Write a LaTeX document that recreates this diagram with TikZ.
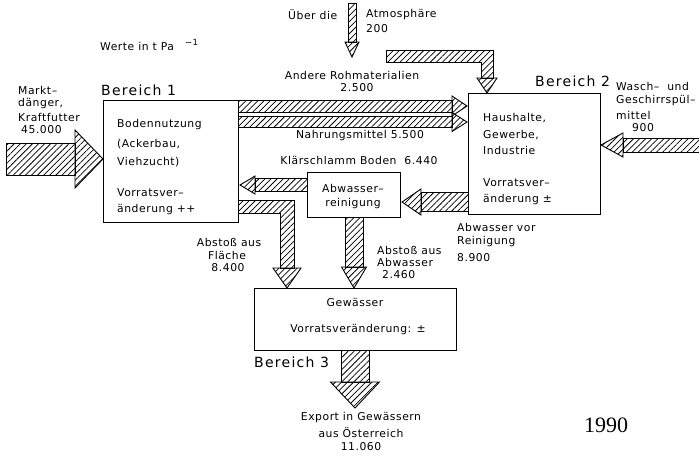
\documentclass[tikz,border=0pt]{standalone}
\usepackage{fontspec}
\usetikzlibrary{patterns.meta}
\newfontfamily\plotfont{DejaVu Sans}[LetterSpace=5]
\newfontfamily\bereichfont{DejaVu Sans}[LetterSpace=9]
\newfontfamily\yearfont{Liberation Serif}
\newcommand\harr[6]{%
  \draw[hatch] (#1,{#3-#4}) rectangle (#6,{#3+#4});
  \draw[hatch] (#6,{#3-#5}) -- (#2,#3) -- (#6,{#3+#5}) -- cycle;}
\newcommand\varr[6]{%
  \draw[hatch] ({#3-#4},#1) rectangle ({#3+#4},#6);
  \draw[hatch] ({#3-#5},#6) -- (#3,#2) -- ({#3+#5},#6) -- cycle;}
\begin{document}
\begin{tikzpicture}[x=1pt,y=-1pt,
  lbl/.style={font={\plotfont\fontsize{10.8}{13}\selectfont}, inner sep=0pt, anchor=west},
  clbl/.style={font={\plotfont\fontsize{10.8}{13}\selectfont}, inner sep=0pt, align=center},
  blbl/.style={font={\bereichfont\fontsize{14}{16}\selectfont}, inner sep=0pt, anchor=west},
  box/.style={draw, line width=1.2pt, inner sep=0pt, anchor=north west},
  hatch/.style={draw, line width=0.9pt, line join=miter,
    pattern={Lines[angle=45,distance=4.3pt,line width=0.75pt]}}]
\useasboundingbox (0,0) rectangle (699,456);
\fill[white] (0,0) rectangle (699,456);

% boxes
\node[box, minimum width=135pt, minimum height=122pt] (b1) at (103,100) {};
\node[box, minimum width=132pt, minimum height=121pt] (b2) at (468,93) {};
\node[box, minimum width=93pt, minimum height=45pt] (rein) at (307,172) {};
\node[box, minimum width=202pt, minimum height=62pt] (gew) at (254,288) {};

% box texts
\node[blbl] (t1) at (101,90) {Bereich 1};
\node[blbl] (t2) at (535,81) {Bereich 2};
\node[blbl] (t3) at (254,362) {Bereich 3};
\node[lbl] (b1a) at (117,125) {Bodennutzung};
\node[lbl] (b1b) at (117,144) {(Ackerbau,};
\node[lbl] (b1c) at (117,162) {Viehzucht)};
\node[lbl] (b1d) at (117,193) {Vorratsver–};
\node[lbl] (b1e) at (117,210) {änderung ++};
\node[lbl] (b2a) at (483,118) {Haushalte,};
\node[lbl] (b2b) at (483,135) {Gewerbe,};
\node[lbl] (b2c) at (483,150) {Industrie};
\node[lbl] (b2d) at (483,183) {Vorratsver–};
\node[lbl] (b2e) at (483,200) {änderung ±};
\node[clbl] (ra) at (353,188) {Abwasser–};
\node[clbl] (rb) at (353,204) {reinigung};
\node[clbl] (ga) at (355,302) {Gewässer};
\node[clbl] (gb) at (358,330) {Vorratsveränderung: ±};

% other labels
\node[lbl] (werte) at (100,45) {Werte in t Pa\hspace{11pt}\raisebox{4.5pt}{\fontsize{8.5}{9}\selectfont −1}};
\node[lbl] (ueber) at (288,15) {Über die};
\node[lbl] (atm) at (366,15) {Atmosphäre};
\node[lbl] (atmv) at (366,29) {200};
\node[clbl] (roh) at (352,75) {Andere Rohmaterialien};
\node[clbl] (rohv) at (357,88) {2.500};
\node[clbl] (nahr) at (360,136) {Nahrungsmittel 5.500};
\node[clbl] (klaer) at (359,160) {Klärschlamm Boden \ 6.440};
\node[lbl] (m1) at (18,90) {Markt–};
\node[lbl] (m2) at (18,104) {dänger,};
\node[lbl] (m3) at (18,117) {Kraftfutter};
\node[lbl] (m4) at (21,130) {45.000};
\node[lbl] (w1) at (616,86) {Wasch– \ und};
\node[lbl] (w2) at (616,101) {Geschirrspül–};
\node[lbl] (w3) at (616,115) {mittel};
\node[lbl] (w4) at (632,128) {900};
\node[lbl] (av1) at (457,227) {Abwasser vor};
\node[lbl] (av2) at (457,242) {Reinigung};
\node[lbl] (av3) at (457,258) {8.900};
\node[clbl] (af1) at (229,242) {Abstoß aus};
\node[clbl] (af2) at (227,255) {Fläche};
\node[clbl] (af3) at (228,268) {8.400};
\node[lbl] (aa1) at (377,250) {Abstoß aus};
\node[lbl] (aa2) at (377,262) {Abwasser};
\node[lbl] (aa3) at (382,275) {2.460};
\node[clbl] (ex1) at (361,418) {Export in Gewässern};
\node[clbl] (ex2) at (361,433) {aus Österreich};
\node[clbl] (ex3) at (361,447) {11.060};
\node[font={\yearfont\fontsize{22}{24}\selectfont}, inner sep=0pt] (year) at (606,425) {1990};

% hatched arrows
\harr{6}{103}{159}{16}{29}{75}          % Marktduenger
\harr{238}{467}{106}{6}{10}{452}        % Andere Rohmaterialien
\harr{238}{467}{122}{5.5}{9.5}{452}     % Nahrungsmittel
\harr{307}{240}{185}{6.5}{9}{255}       % Klaerschlamm
\harr{468}{402}{202}{9.5}{13}{421}      % Abwasser vor Reinigung
\harr{699}{601}{145}{7}{12}{623}        % Wasch- und Geschirrspuelmittel
\varr{3}{57}{352}{4}{7}{42}             % Atmosphaere
\varr{217}{288}{354}{9}{12.5}{267}      % Abstoss aus Abwasser
\varr{350}{408}{355}{14}{24.5}{382}     % Export
% Abstoss aus Flaeche (L-shape)
\draw[hatch] (238,200) -- (294,200) -- (294,268) -- (280,268) -- (280,213) -- (238,213) -- cycle;
\draw[hatch] (273,268) -- (287,288) -- (301,268) -- cycle;
% top-right L arrow into Bereich 2
\draw[hatch] (386,50) -- (493,50) -- (493,78) -- (481,78) -- (481,62) -- (386,62) -- cycle;
\draw[hatch] (477,78) -- (487,93) -- (497,78) -- cycle;
\end{tikzpicture}
\end{document}
